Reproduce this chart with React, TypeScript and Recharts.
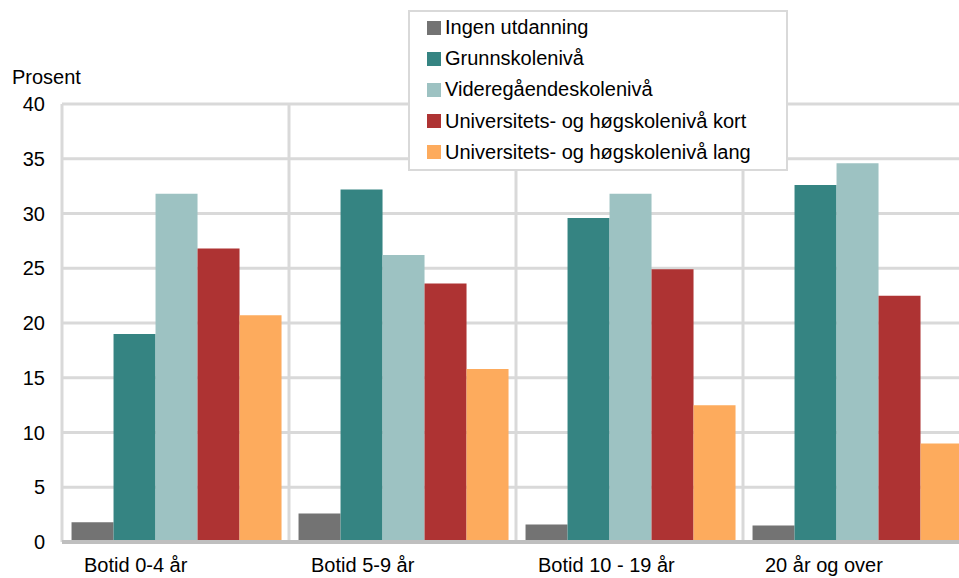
import React from "react";
import { BarChart, Bar, XAxis, YAxis, CartesianGrid } from "recharts";

const categories = ["Botid 0-4 år", "Botid 5-9 år", "Botid 10 - 19 år", "20 år og over"];
const ingen = [1.8, 2.6, 1.6, 1.5];
const grunn = [19.0, 32.2, 29.6, 32.6];
const videre = [31.8, 26.2, 31.8, 34.6];
const uniKort = [26.8, 23.6, 24.9, 22.5];
const uniLang = [20.7, 15.8, 12.5, 9.0];
const seriesNames = [
  "Ingen utdanning",
  "Grunnskolenivå",
  "Videregåendeskolenivå",
  "Universitets- og høgskolenivå kort",
  "Universitets- og høgskolenivå lang",
];
const seriesKeys = ["ingen", "grunn", "videre", "uniKort", "uniLang"];
const seriesColors = ["#737373", "#358482", "#9dc2c2", "#ae3333", "#fdab5d"];
const yTicks = [0, 5, 10, 15, 20, 25, 30, 35, 40];

const data = categories.map((name, i) => ({
  name,
  ingen: ingen[i],
  grunn: grunn[i],
  videre: videre[i],
  uniKort: uniKort[i],
  uniLang: uniLang[i],
}));

const FONT = "'Liberation Sans', Arial, Helvetica, sans-serif";
const CHART_W = 980;
const CHART_H = 578;
const MARGIN = { top: 104, right: 10, bottom: 0, left: 0 };
const Y_W = 62;
const CAT_W = (CHART_W - MARGIN.left - MARGIN.right - Y_W) / categories.length;

const XTick = (props: any) => {
  const { x, y, payload } = props;
  return (
    <text x={x - CAT_W / 2 + 22} y={y + 22} textAnchor="start" fontSize={20} fill="#000" fontFamily={FONT}>
      {payload.value}
    </text>
  );
};

const YTick = (props: any) => {
  const { y, payload } = props;
  return (
    <text x={45} y={y + 7} textAnchor="end" fontSize={20} fill="#000" fontFamily={FONT}>
      {payload.value}
    </text>
  );
};

export default function App() {
  return (
    <div
      style={{
        position: "absolute",
        left: 0,
        top: 0,
        width: 959,
        height: 578,
        overflow: "hidden",
        background: "#fff",
        fontFamily: FONT,
      }}
    >
      <BarChart width={CHART_W} height={CHART_H} data={data} margin={MARGIN} barCategoryGap="4.2%" barGap={0}>
        <CartesianGrid
          stroke="#d9d9d9"
          strokeWidth={3}
          verticalCoordinatesGenerator={({ offset }: any) =>
            categories.map((_, i) => offset.left + i * (offset.width / categories.length)).concat(offset.left + offset.width)
          }
        />
        <XAxis
          dataKey="name"
          height={36}
          axisLine={{ stroke: "#bfbfbf", strokeWidth: 4 }}
          tickLine={false}
          tick={<XTick />}
          interval={0}
        />
        <YAxis
          width={Y_W}
          domain={[0, 40]}
          ticks={yTicks}
          axisLine={false}
          tickLine={false}
          tick={<YTick />}
        />
        {seriesKeys.map((k, i) => (
          <Bar key={k} dataKey={k} name={seriesNames[i]} fill={seriesColors[i]} isAnimationActive={false} />
        ))}
      </BarChart>

      <div
        style={{
          position: "absolute",
          left: 12,
          top: 66,
          fontSize: 20,
          color: "#000",
        }}
      >
        Prosent
      </div>

      <div
        style={{
          position: "absolute",
          left: 408,
          top: 10,
          width: 376,
          height: 157,
          border: "2px solid #d9d9d9",
          background: "#fff",
          boxSizing: "content-box",
        }}
      >
        {seriesNames.map((n, i) => (
          <div
            key={n}
            style={{
              display: "flex",
              alignItems: "center",
              height: 31.2,
              paddingLeft: 17,
              fontSize: 20,
              color: "#000",
              whiteSpace: "nowrap",
            }}
          >
            <span
              style={{
                display: "inline-block",
                width: 14,
                height: 14,
                background: seriesColors[i],
                marginRight: 4,
              }}
            />
            {n}
          </div>
        ))}
      </div>
    </div>
  );
}
